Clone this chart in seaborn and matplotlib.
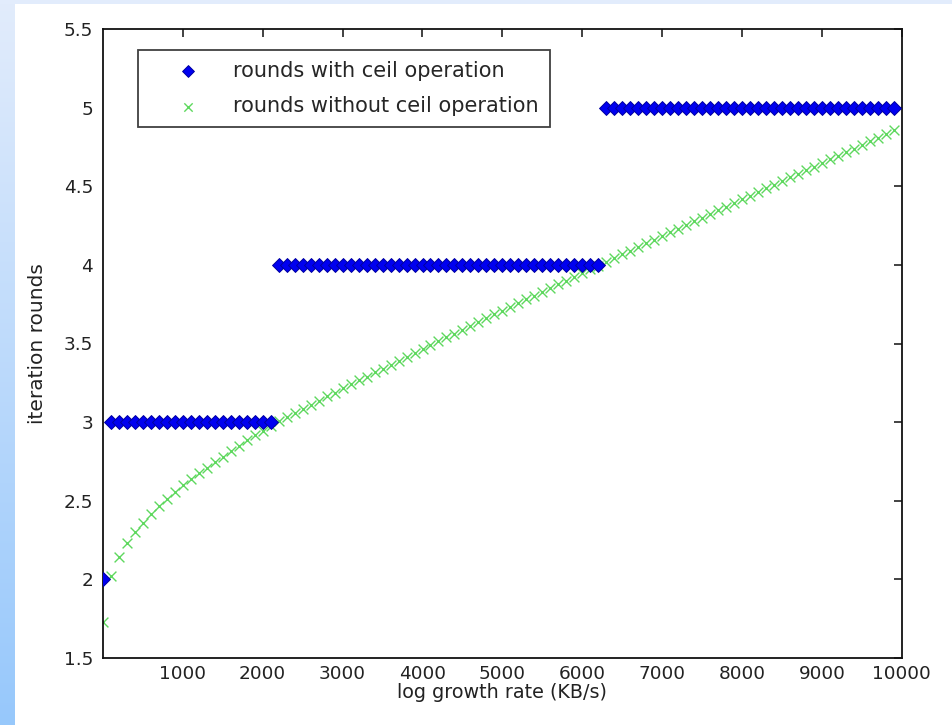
import numpy as np
import pandas as pd
import matplotlib
matplotlib.use("Agg")
import matplotlib.pyplot as plt
import seaborn as sns

# x values: growth rate samples (KB/s)
rates = list(range(1, 10000, 100))

# rounds without ceil operation
rounds_raw = [
    1.730, 2.020, 2.140, 2.230, 2.300, 2.360, 2.415, 2.465, 2.510, 2.555,
    2.600, 2.640, 2.675, 2.710, 2.745, 2.780, 2.815, 2.850, 2.885, 2.915,
    2.945, 2.975, 3.004, 3.031, 3.058, 3.084, 3.110, 3.137, 3.163, 3.188,
    3.214, 3.240, 3.265, 3.290, 3.316, 3.341, 3.366, 3.391, 3.416, 3.440,
    3.465, 3.490, 3.514, 3.539, 3.563, 3.588, 3.612, 3.636, 3.660, 3.685,
    3.709, 3.733, 3.757, 3.781, 3.805, 3.829, 3.853, 3.876, 3.900, 3.924,
    3.948, 3.971, 3.995, 4.019, 4.042, 4.066, 4.089, 4.113, 4.136, 4.160,
    4.183, 4.207, 4.230, 4.254, 4.277, 4.300, 4.324, 4.347, 4.370, 4.393,
    4.417, 4.440, 4.463, 4.486, 4.509, 4.533, 4.556, 4.579, 4.602, 4.625,
    4.648, 4.671, 4.694, 4.717, 4.740, 4.763, 4.786, 4.809, 4.832, 4.855,
]

# rounds with ceil operation
rounds_ceil = [2] + [3] * 21 + [4] * 41 + [5] * 37

y_ticks = [1.5, 2, 2.5, 3, 3.5, 4, 4.5, 5, 5.5]
y_tick_labels = ["1.5", "2", "2.5", "3", "3.5", "4", "4.5", "5", "5.5"]
x_ticks = [1000, 2000, 3000, 4000, 5000, 6000, 7000, 8000, 9000, 10000]

sns.set_theme(style="white")
plt.rcParams["font.family"] = ["DejaVu Sans"]

df = pd.DataFrame({"rate": rates, "ceil": rounds_ceil, "raw": rounds_raw})

W, H = 953, 725
fig = plt.figure(figsize=(W / 100, H / 100), dpi=100)
fig.patch.set_facecolor("white")

# slide background: light blue gradient band at the left, thin band on top
bg = fig.add_axes([0, 0, 15 / W, 1])
grad = np.linspace(0, 1, 256).reshape(-1, 1)
cmap = matplotlib.colors.LinearSegmentedColormap.from_list("bg", ["#e2ecfc", "#97c8fb"])
bg.imshow(grad, aspect="auto", cmap=cmap, extent=[0, 1, 0, 1], origin="upper")
bg.axis("off")
top = fig.add_axes([0, 1 - 4 / H, 1, 4 / H])
top.axis("off")
top.add_patch(plt.Rectangle((0, 0), 1, 1, color="#e2ecfc", transform=top.transAxes))

ax = fig.add_axes([103 / W, 1 - 658 / H, 798.7 / W, 629 / H])

sns.scatterplot(data=df, x="rate", y="ceil", ax=ax, marker="D", s=50,
                color="#0000f0", edgecolor="#0000a0", linewidth=0.7,
                label="rounds with ceil operation", zorder=3)
sns.scatterplot(data=df, x="rate", y="raw", ax=ax, marker="x", s=50,
                color="#5ed85e", linewidth=1.0,
                label="rounds without ceil operation", zorder=2)

ax.set_xlim(1, 10000)
ax.set_ylim(1.5, 5.5)
ax.set_xticks(x_ticks)
ax.set_xticklabels([str(t) for t in x_ticks])
ax.set_yticks(y_ticks)
ax.set_yticklabels(y_tick_labels)
ax.tick_params(direction="in", length=6, width=1.2, top=True, right=True,
               labelsize=13.3, colors="#222222", pad=7)
ax.tick_params(axis="x", pad=5)
for sp in ax.spines.values():
    sp.set_color("#111111")
    sp.set_linewidth(1.3)
ax.set_xlabel("log growth rate (KB/s)", fontsize=13.8, labelpad=0, color="#222222")
ax.set_ylabel("iteration rounds", fontsize=14.5, labelpad=12, color="#222222")

leg = ax.legend(loc="upper left", bbox_to_anchor=(35 / 798.7, 1 - 21 / 629),
                fontsize=15, frameon=True, fancybox=False, borderpad=0.52,
                handletextpad=0.28, labelspacing=0.74, borderaxespad=0,
                handlelength=3.77, markerscale=0.85)
leg.get_frame().set_edgecolor("#111111")
leg.get_frame().set_linewidth(1.3)

fig.savefig("out.png", dpi=100, facecolor=fig.get_facecolor())
